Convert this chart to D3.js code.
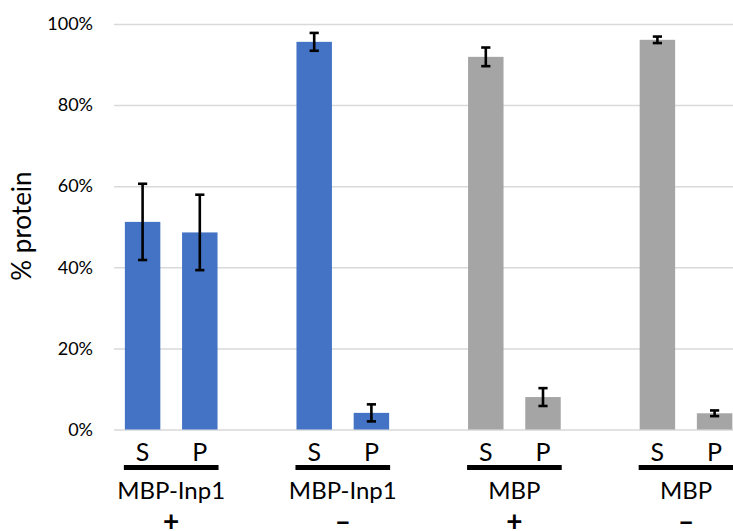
<!DOCTYPE html>
<html><head><meta charset="utf-8">
<script src="https://cdn.jsdelivr.net/npm/d3@7"></script>
<style>body{margin:0;background:#fff}svg{display:block}text{font-family:Lato,"Open Sans",sans-serif;fill:#000}</style>
</head><body>
<svg id="c" width="733" height="531"></svg>
<script>
const groupNames = ["MBP-Inp1","MBP-Inp1","MBP","MBP"];
const treatments = ["+","\u2013","+","\u2013"];
const groupColors = ["#4472C4","#4472C4","#A5A5A5","#A5A5A5"];
const fractions = ["S","P"];
const sValues = [51.2, 95.6, 91.9, 96.1];
const sErrors = [9.4, 2.2, 2.3, 0.8];
const pValues = [48.6, 4.1, 8.0, 4.0];
const pErrors = [9.3, 2.1, 2.2, 0.7];
const yTicks = [0, 20, 40, 60, 80, 100];

(function(){
const svg = d3.select("#c");
const pL = 114, pR = 733, pT = 24, pB = 429.5;
const slot = 57.2;
const gIdx = groupNames.map((d,i)=>i);
const x0 = d3.scaleBand().domain(gIdx).range([pL, pL + 4*3*slot]).paddingInner(0).paddingOuter(0);
const x1 = d3.scaleBand().domain(fractions).range([0, 2*slot]).paddingInner(0.38).paddingOuter(0.19);
const y = d3.scaleLinear().domain([0,100]).range([pB, pT]);

const yAxis = d3.axisLeft(y).tickValues(yTicks).tickFormat(d => d + "%")
  .tickSize(-(pR - pL)).tickPadding(21);
const ga = svg.append("g").attr("transform", `translate(${pL},0)`).call(yAxis);
ga.select(".domain").remove();
ga.selectAll(".tick line").attr("stroke", "#D9D9D9").attr("stroke-width", 1.5);
ga.selectAll(".tick text").attr("font-size", 18).attr("fill", "#000").attr("dy", "0.32em");

const rows = [];
gIdx.forEach(i => {
  rows.push({g:i, f:"S", v:sValues[i], e:sErrors[i]});
  rows.push({g:i, f:"P", v:pValues[i], e:pErrors[i]});
});
const bx = d => x0(d.g) + x1(d.f);
svg.append("g").selectAll("rect").data(rows).join("rect")
  .attr("x", bx).attr("width", x1.bandwidth())
  .attr("y", d => y(d.v)).attr("height", d => y(0) - y(d.v))
  .attr("fill", d => groupColors[d.g]);

const eg = svg.append("g").attr("stroke", "#000").attr("stroke-width", 2.6);
const cap = 4.6;
rows.forEach(d => {
  const cx = bx(d) + x1.bandwidth()/2;
  eg.append("line").attr("x1", cx).attr("x2", cx).attr("y1", y(d.v + d.e)).attr("y2", y(d.v - d.e));
  eg.append("line").attr("x1", cx-cap).attr("x2", cx+cap).attr("y1", y(d.v + d.e)).attr("y2", y(d.v + d.e));
  eg.append("line").attr("x1", cx-cap).attr("x2", cx+cap).attr("y1", y(d.v - d.e)).attr("y2", y(d.v - d.e));
});

svg.append("g").selectAll("text").data(rows).join("text")
  .attr("x", d => bx(d) + x1.bandwidth()/2).attr("y", 461)
  .attr("text-anchor", "middle").attr("font-size", 25).text(d => d.f);

svg.append("g").selectAll("line").data(gIdx).join("line")
  .attr("x1", i => x0(i) + x1("S") - 1).attr("x2", i => x0(i) + x1("P") + x1.bandwidth() + 1)
  .attr("y1", 467.5).attr("y2", 467.5).attr("stroke", "#000").attr("stroke-width", 5);

const gc = i => x0(i) + (x1("S") + x1("P") + x1.bandwidth())/2;
svg.append("g").selectAll("text").data(gIdx).join("text")
  .attr("x", gc).attr("y", 499).attr("text-anchor", "middle").attr("font-size", 24)
  .text(i => groupNames[i]);
svg.append("g").selectAll("text").data(gIdx).join("text")
  .attr("x", gc).attr("y", 531).attr("text-anchor", "middle").attr("font-size", 28)
  .attr("font-weight", "bold").text(i => treatments[i]);

svg.append("text").attr("transform", "translate(31,226) rotate(-90)")
  .attr("text-anchor", "middle").attr("font-size", 26).text("% protein");
})();
</script>
</body></html>
